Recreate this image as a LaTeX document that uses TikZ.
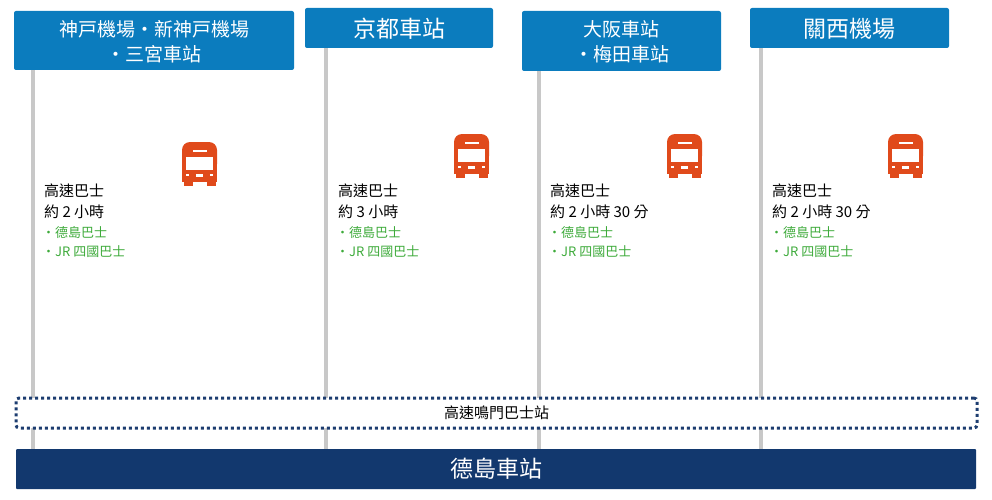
\documentclass[tikz,border=0pt]{standalone}
\usepackage{fontspec}
\setmainfont{Noto Sans CJK TC}
\definecolor{hdrblue}{HTML}{0B7CBE}
\definecolor{stationnavy}{HTML}{12386E}
\definecolor{dotnavy}{HTML}{1D3D70}
\definecolor{stemgrey}{HTML}{C8C8C8}
\definecolor{busred}{HTML}{E04A1B}
\definecolor{routegreen}{HTML}{3DAA3A}

\begin{document}
\begin{tikzpicture}[x=1pt, y=-1pt,
	header/.style={shape=rectangle, fill=hdrblue, text=white, rounded corners=2pt, align=center, inner sep=0pt, text depth=0pt},
	stem/.style={-, draw=stemgrey, line width=4pt},
	info/.style={anchor=west, inner sep=0pt, font=\fontsize{15}{15}\selectfont},
	route/.style={anchor=west, inner sep=0pt, text=routegreen, font=\fontsize{13}{13}\selectfont},
	bus/.pic={
		\fill[busred, rounded corners=8pt] (-17.5,-22) rectangle (17.5,8);
		\fill[busred] (-17.5,0) rectangle (17.5,18);
		\fill[busred] (-16,18) rectangle (-7,22);
		\fill[busred] (7,18) rectangle (16,22);
		\fill[white] (-13.5,-7) rectangle (13.5,6);
		\fill[white] (-7,-14) rectangle (7,-12);
		\fill[white] (-13.5,10) rectangle (-10.5,12);
		\fill[white] (-3.5,10) rectangle (3.5,13);
		\fill[white] (10.5,10) rectangle (13.5,12);
	}]
	\useasboundingbox (0,0) rectangle (992,500);

	\node[header, minimum width=280pt, minimum height=59pt, font=\fontsize{19}{25}\selectfont] (kobe)  at (154,40.5) {神戸機場・新神戸機場\\・三宮車站};
	\node[header, minimum width=188pt, minimum height=40pt, font=\fontsize{23}{23}\selectfont] (kyoto) at (399,28)   {京都車站};
	\node[header, minimum width=199pt, minimum height=60pt, font=\fontsize{19}{25}\selectfont] (osaka) at (621.5,41) {大阪車站\\・梅田車站};
	\node[header, minimum width=199pt, minimum height=40pt, font=\fontsize{23}{23}\selectfont] (kix)   at (849.5,28) {關西機場};

	\coordinate (kobeend)  at (33,449);
	\coordinate (kyotoend) at (326,449);
	\coordinate (osakaend) at (539,449);
	\coordinate (kixend)   at (761,449);

	\path [stem] (kobe.south -| kobeend)   edge (kobeend);
	\path [stem] (kyoto.south -| kyotoend) edge (kyotoend);
	\path [stem] (osaka.south -| osakaend) edge (osakaend);
	\path [stem] (kix.south -| kixend)     edge (kixend);

	\pic at (199.5,164) {bus};
	\pic at (471.5,156) {bus};
	\pic at (684.5,156) {bus};
	\pic at (905.5,156) {bus};

	\node[info]  (kobetype)   at (44,191) {高速巴士};
	\node[info]  (kobetime)   at (44,212) {約 2 小時};
	\node[route] (kobebus)    at (42,233) {・德島巴士};
	\node[route] (kobejr)     at (42,252) {・JR 四國巴士};

	\node[info]  (kyototype)  at (338,191) {高速巴士};
	\node[info]  (kyototime)  at (338,212) {約 3 小時};
	\node[route] (kyotobus)   at (336,233) {・德島巴士};
	\node[route] (kyotojr)    at (336,252) {・JR 四國巴士};

	\node[info]  (osakatype)  at (550,191) {高速巴士};
	\node[info]  (osakatime)  at (550,212) {約 2 小時 30 分};
	\node[route] (osakabus)   at (548,233) {・德島巴士};
	\node[route] (osakajr)    at (548,252) {・JR 四國巴士};

	\node[info]  (kixtype)    at (772,191) {高速巴士};
	\node[info]  (kixtime)    at (772,212) {約 2 小時 30 分};
	\node[route] (kixbus)     at (770,233) {・德島巴士};
	\node[route] (kixjr)      at (770,252) {・JR 四國巴士};

	\node[shape=rectangle, draw=dotnavy, fill=white, line width=3pt, dash pattern=on 3pt off 3pt, rounded corners=3pt, minimum width=961pt, minimum height=30pt, inner sep=0pt, font=\fontsize{15}{15}\selectfont] (naruto) at (496.5,413) {高速鳴門巴士站};
	\node[shape=rectangle, fill=stationnavy, text=white, rounded corners=1pt, minimum width=960pt, minimum height=40pt, inner sep=0pt, font=\fontsize{23}{23}\selectfont] (tokushima) at (496,469) {德島車站};
\end{tikzpicture}
\end{document}
